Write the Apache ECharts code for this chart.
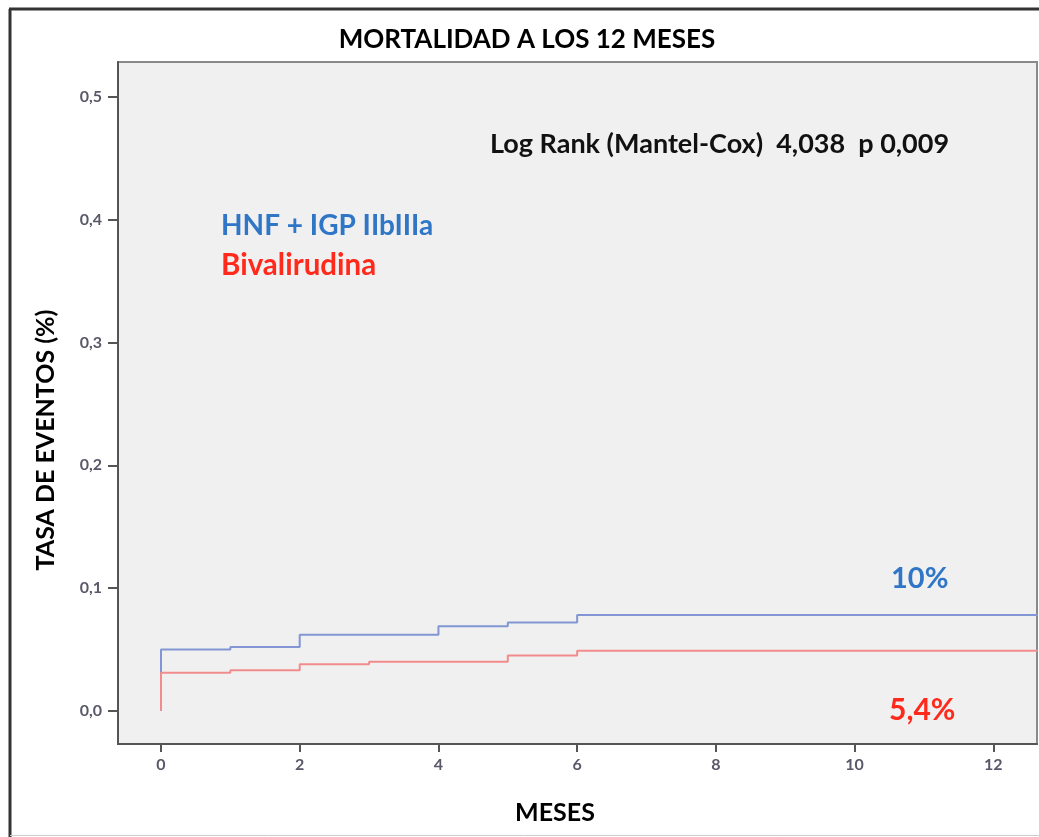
<!DOCTYPE html>
<html>
<head>
<meta charset="utf-8">
<script src="https://cdn.jsdelivr.net/npm/echarts@6/dist/echarts.min.js"></script>
<style>
html,body{margin:0;padding:0;background:#fff;}
#chart{width:1039px;height:837px;}
</style>
</head>
<body>
<div id="chart"></div>
<script>
// Kaplan-Meier cumulative event rate
const months   = [0, 0, 1, 2, 3, 4, 5, 6, 12.7];
const hnfRate  = [0, 0.050, 0.052, 0.062, 0.062, 0.069, 0.072, 0.078, 0.078];
const bivRate  = [0, 0.031, 0.033, 0.038, 0.040, 0.040, 0.045, 0.049, 0.049];
const xTicks   = [0, 2, 4, 6, 8, 10, 12];
const yTicks   = [0, 0.1, 0.2, 0.3, 0.4, 0.5];
const seriesNames = ['HNF + IGP IIbIIIa', 'Bivalirudina'];
const titleText = 'MORTALIDAD A LOS 12 MESES';
const xName = 'MESES';
const yName = 'TASA DE EVENTOS (%)';
const statText = 'Log Rank (Mantel-Cox)  4,038  p 0,009';
const endLabels = ['10%', '5,4%'];

const FONT = 'Lato, "Open Sans", sans-serif';
const chart = echarts.init(document.getElementById('chart'));

const pairs = arr => months.map((m, i) => [m, arr[i]]);

chart.setOption({
  backgroundColor: '#ffffff',
  animation: false,
  title: {
    text: titleText,
    left: 522, top: 22, textAlign: 'center',
    textStyle: {fontFamily: FONT, fontWeight: 'bold', fontSize: 26, color: '#000'}
  },
  grid: {
    left: 118, top: 62, right: 2, bottom: 93,
    show: true, backgroundColor: '#f0f0f0', borderColor: '#8a8a8a', borderWidth: 2
  },
  xAxis: {
    type: 'value', min: -0.62, max: 12.63,
    axisLine: {onZero: false, lineStyle: {color: '#555', width: 2}},
    axisTick: {customValues: xTicks, length: 8, lineStyle: {color: '#555', width: 2}},
    axisLabel: {customValues: xTicks, color: '#585868', fontSize: 16, fontWeight: 'bold', fontFamily: FONT, margin: 13},
    splitLine: {show: false}
  },
  yAxis: {
    type: 'value', min: -0.027, max: 0.5285,
    axisLine: {onZero: false, lineStyle: {color: '#555', width: 2}},
    axisTick: {customValues: yTicks, length: 10, lineStyle: {color: '#555', width: 2}},
    axisLabel: {customValues: yTicks, color: '#585868', fontSize: 16, fontWeight: 'bold', fontFamily: FONT, margin: 16,
      formatter: v => v.toFixed(1).replace('.', ',')},
    splitLine: {show: false}
  },
  series: [
    {name: seriesNames[0], type: 'line', step: 'end', showSymbol: false, data: pairs(hnfRate),
     lineStyle: {color: '#8196d3', width: 2}, itemStyle: {color: '#8196d3'}},
    {name: seriesNames[1], type: 'line', step: 'end', showSymbol: false, data: pairs(bivRate),
     lineStyle: {color: '#f28c8c', width: 2}, itemStyle: {color: '#f28c8c'}}
  ],
  graphic: [
    {type: 'line', shape: {x1: 9, y1: 9, x2: 1039, y2: 9}, style: {stroke: '#333', lineWidth: 3}},
    {type: 'line', shape: {x1: 10, y1: 9, x2: 10, y2: 837}, style: {stroke: '#333', lineWidth: 3}},
    {type: 'line', shape: {x1: 10, y1: 835.5, x2: 1039, y2: 835.5}, style: {stroke: '#ccc', lineWidth: 1}},
    {type: 'text', x: 46, y: 440, rotation: Math.PI / 2,
     style: {text: yName, fontFamily: FONT, fontSize: 25, fontWeight: 'bold', fill: '#000', align: 'center', verticalAlign: 'middle'}},
    {type: 'text', x: 555, y: 813,
     style: {text: xName, fontFamily: FONT, fontSize: 25, fontWeight: 'bold', fill: '#000', align: 'center', verticalAlign: 'middle'}},
    {type: 'text', x: 490, y: 144, style: {text: statText, fontFamily: FONT, fontSize: 27, fontWeight: 'bold', fill: '#111', verticalAlign: 'middle'}},
    {type: 'text', x: 221, y: 226, style: {text: seriesNames[0], fontFamily: FONT, fontSize: 28, fontWeight: 'bold', fill: '#2f76c7', verticalAlign: 'middle'}},
    {type: 'text', x: 221, y: 265, style: {text: seriesNames[1], fontFamily: FONT, fontSize: 29.5, fontWeight: 'bold', fill: '#ff2a1c', verticalAlign: 'middle'}},
    {type: 'text', x: 891, y: 579, style: {text: endLabels[0], fontFamily: FONT, fontSize: 29, fontWeight: 'bold', fill: '#2f76c7', verticalAlign: 'middle'}},
    {type: 'text', x: 889, y: 710, style: {text: endLabels[1], fontFamily: FONT, fontSize: 30, fontWeight: 'bold', fill: '#ff2a1c', verticalAlign: 'middle'}}
  ]
});
</script>
</body>
</html>
